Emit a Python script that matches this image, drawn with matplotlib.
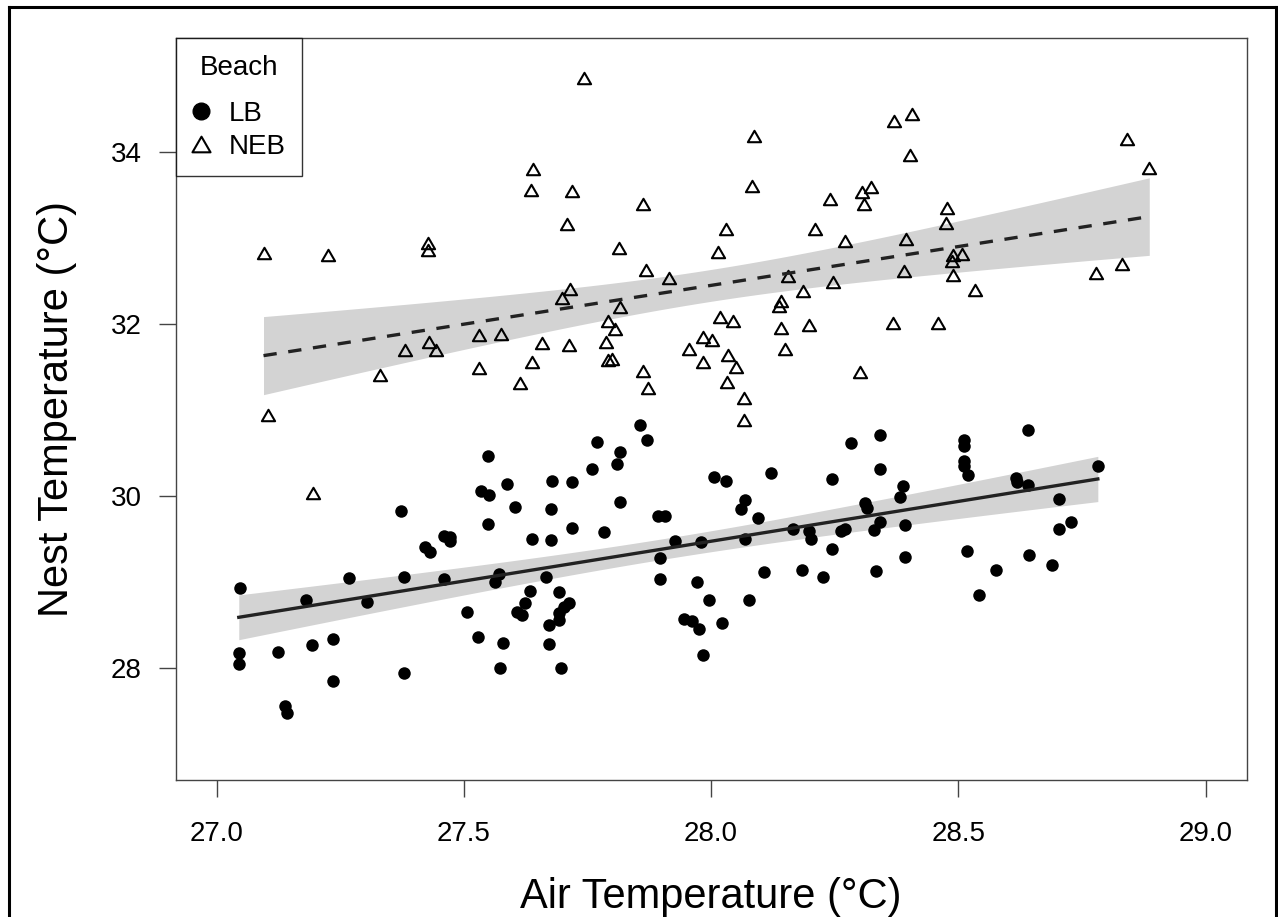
import numpy as np
import matplotlib.pyplot as plt
from matplotlib.lines import Line2D
from matplotlib.path import Path

plt.rcParams['font.family'] = ['Liberation Sans', 'DejaVu Sans']

# LB beach: air temperature vs nest temperature
lb_air = np.array([
    27.048, 27.045, 27.045, 27.124, 27.139, 27.142, 27.181, 27.193, 27.236, 27.236,
    27.267, 27.304, 27.379, 27.379, 27.459, 27.506, 27.529, 27.563, 27.572, 27.574,
    27.579, 27.607, 27.617, 27.624, 27.634, 27.666, 27.673, 27.673, 27.692, 27.693,
    27.693, 27.697, 27.703, 27.713, 27.372, 27.422, 27.432, 27.459, 27.472, 27.472,
    27.535, 27.548, 27.550, 27.548, 27.587, 27.604, 27.637, 27.678, 27.676, 27.718,
    27.719, 27.676, 27.760, 27.769, 27.810, 27.816, 27.816, 27.784, 27.856, 27.870,
    27.893, 27.907, 27.897, 27.897, 27.928, 27.946, 27.961, 27.976, 27.971, 27.980,
    27.984, 27.996, 28.006, 28.023, 28.030, 28.060, 28.069, 28.069, 28.077, 28.094,
    28.108, 28.122, 28.166, 28.184, 28.197, 28.202, 28.226, 28.244, 28.244, 28.263,
    28.271, 28.283, 28.311, 28.315, 28.329, 28.334, 28.341, 28.342, 28.341, 28.383,
    28.389, 28.392, 28.392, 28.512, 28.512, 28.512, 28.512, 28.520, 28.517, 28.576,
    28.541, 28.641, 28.616, 28.618, 28.641, 28.703, 28.728, 28.703, 28.642, 28.690,
    28.782])
lb_nest = np.array([
    28.923, 28.167, 28.043, 28.186, 27.558, 27.477, 28.787, 28.264, 28.334, 27.849,
    29.039, 28.767, 29.051, 27.935, 29.031, 28.651, 28.360, 28.992, 29.089, 27.993,
    28.291, 28.651, 28.612, 28.755, 28.895, 29.051, 28.496, 28.272, 28.883, 28.632,
    28.554, 28.000, 28.709, 28.748, 29.821, 29.399, 29.341, 29.530, 29.522, 29.472,
    30.057, 30.460, 30.007, 29.666, 30.138, 29.868, 29.496, 30.173, 29.841, 30.155,
    29.620, 29.484, 30.309, 30.619, 30.364, 30.510, 29.922, 29.573, 30.820, 30.646,
    29.766, 29.766, 29.278, 29.027, 29.472, 28.562, 28.546, 28.453, 28.996, 29.457,
    28.148, 28.787, 30.213, 28.523, 30.170, 29.844, 29.949, 29.496, 28.787, 29.736,
    29.109, 30.259, 29.608, 29.135, 29.589, 29.492, 29.058, 30.193, 29.379, 29.592,
    29.608, 30.615, 29.910, 29.852, 29.600, 29.124, 30.701, 30.313, 29.697, 29.987,
    30.112, 29.658, 29.290, 30.646, 30.580, 30.406, 30.344, 30.239, 29.360, 29.135,
    28.845, 30.762, 30.208, 30.161, 30.123, 29.960, 29.697, 29.608, 29.313, 29.193,
    30.344])

# NEB beach
neb_air = np.array([
    27.095, 27.104, 27.195, 27.225, 27.331, 27.381, 27.428, 27.428, 27.430, 27.444,
    27.530, 27.530, 27.575, 27.614, 27.635, 27.640, 27.638, 27.659, 27.709, 27.698,
    27.715, 27.719, 27.713, 27.743, 27.787, 27.791, 27.800, 27.792, 27.806, 27.816,
    27.814, 27.863, 27.863, 27.873, 27.868, 27.915, 27.955, 27.983, 28.002, 27.984,
    28.013, 28.018, 28.031, 28.034, 28.032, 28.044, 28.050, 28.067, 28.067, 28.087,
    28.082, 28.137, 28.141, 28.141, 28.149, 28.156, 28.186, 28.197, 28.210, 28.240,
    28.247, 28.271, 28.301, 28.306, 28.309, 28.323, 28.370, 28.368, 28.406, 28.403,
    28.395, 28.391, 28.459, 28.477, 28.474, 28.490, 28.488, 28.490, 28.507, 28.534,
    28.778, 28.830, 28.840, 28.886])
neb_nest = np.array([
    32.819, 30.940, 30.030, 32.799, 31.405, 31.692, 32.935, 32.858, 31.785, 31.695,
    31.483, 31.870, 31.878, 31.308, 33.555, 33.801, 31.553, 31.773, 33.160, 32.296,
    32.404, 33.540, 31.747, 34.859, 31.785, 31.579, 31.587, 32.033, 31.940, 32.188,
    32.885, 33.389, 31.444, 31.250, 32.625, 32.529, 31.704, 31.843, 31.812, 31.553,
    32.831, 32.072, 33.102, 31.637, 31.317, 32.025, 31.494, 31.134, 30.882, 34.179,
    33.598, 32.200, 32.258, 31.948, 31.707, 32.555, 32.374, 31.986, 33.102, 33.447,
    32.479, 32.955, 31.436, 33.528, 33.392, 33.583, 34.357, 32.006, 34.435, 33.955,
    32.982, 32.607, 32.006, 33.350, 33.168, 32.799, 32.730, 32.560, 32.808, 32.393,
    32.587, 32.691, 34.144, 33.807])

x_ticks = [27.0, 27.5, 28.0, 28.5, 29.0]
y_ticks = [28, 30, 32, 34]


def fit_band(x, y, t_val=1.98):
    # linear fit with 95% confidence band for the mean
    n = len(x)
    b1, b0 = np.polyfit(x, y, 1)
    xs = np.linspace(x.min(), x.max(), 100)
    yhat = b0 + b1 * xs
    resid = y - (b0 + b1 * x)
    s = np.sqrt(np.sum(resid ** 2) / (n - 2))
    se = s * np.sqrt(1 / n + (xs - x.mean()) ** 2 / np.sum((x - x.mean()) ** 2))
    return xs, yhat, yhat - t_val * se, yhat + t_val * se


tri = Path([(-1, -0.866), (1, -0.866), (0, 0.866), (-1, -0.866)],
           [Path.MOVETO, Path.LINETO, Path.LINETO, Path.CLOSEPOLY])

fig = plt.figure(figsize=(12.78, 9.17), dpi=100)
ax = fig.add_axes([0.1375, 0.1494, 0.8380, 0.8092])

for x, y, ls in [(lb_air, lb_nest, '-'), (neb_air, neb_nest, '--')]:
    xs, yhat, lo, hi = fit_band(x, y)
    ax.fill_between(xs, lo, hi, color='#d3d3d3', lw=0, zorder=1)

ax.plot(neb_air, neb_nest, ls='none', marker=tri, ms=9.5, mfc='none',
        mec='black', mew=1.5, zorder=3)
ax.plot(lb_air, lb_nest, ls='none', marker='o', ms=9, mfc='black',
        mec='black', mew=0, zorder=3)

for x, y, ls in [(lb_air, lb_nest, '-'), (neb_air, neb_nest, '--')]:
    xs, yhat, lo, hi = fit_band(x, y)
    line, = ax.plot(xs, yhat, color='#222222', lw=2.4, ls=ls, zorder=4)
    if ls == '--':
        line.set_dashes((4, 3.5))

ax.set_xlim(26.9175, 29.083)
ax.set_ylim(26.695, 35.321)
ax.set_xticks(x_ticks)
ax.set_xticklabels(['%.1f' % v for v in x_ticks])
ax.set_yticks(y_ticks)
ax.tick_params(axis='both', labelsize=20, length=12.5, width=1.0,
               color='#444444', direction='out')
ax.tick_params(axis='x', pad=17)
ax.tick_params(axis='y', pad=12)
for sp in ax.spines.values():
    sp.set_color('#444444')
    sp.set_linewidth(1.0)

ax.set_xlabel('Air Temperature (°C)', fontsize=30)
ax.set_ylabel('Nest Temperature (°C)', fontsize=30)
ax.xaxis.set_label_coords(0.5, -0.131)
ax.yaxis.set_label_coords(-0.092, 0.5)

handles = [
    Line2D([], [], ls='none', marker='o', ms=12, mfc='black', mec='black'),
    Line2D([], [], ls='none', marker=tri, ms=13, mfc='none', mec='black', mew=1.5),
]
leg = ax.legend(handles, ['LB', 'NEB'], title='Beach', loc='upper left',
                fontsize=20, title_fontsize=20, frameon=True, fancybox=False,
                borderaxespad=0, borderpad=0.6, labelspacing=0.25,
                handlelength=0.6, handletextpad=0.71)
leg._legend_box.sep = 14.5  # gap between title and entries
leg.get_frame().set_edgecolor('black')
leg.get_frame().set_linewidth(1.0)

# outer border of the figure
bx0, bx1, by1 = 9 / 1278, 1276 / 1278, 1 - 7 / 917
for xx, yy in [([bx0, bx0], [0, by1]), ([bx0, bx1], [by1, by1]), ([bx1, bx1], [by1, 0])]:
    fig.add_artist(Line2D(xx, yy, color='black', lw=2.2, transform=fig.transFigure))

fig.savefig('out.png', dpi=100)
